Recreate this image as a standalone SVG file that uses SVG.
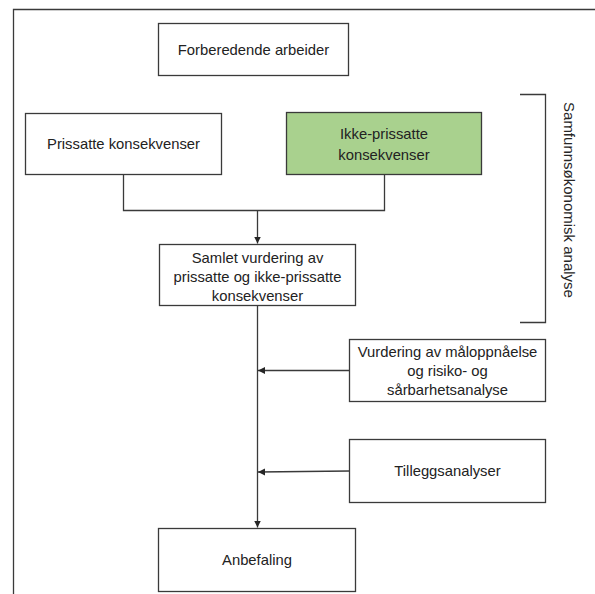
<svg xmlns="http://www.w3.org/2000/svg" width="595" height="594" viewBox="0 0 595 594">
<defs>
<marker id="arr" markerWidth="8" markerHeight="8" refX="7" refY="4" orient="auto" markerUnits="userSpaceOnUse">
<path d="M0,0.5 L7,4 L0,7.5 Z" fill="#262626"/>
</marker>
<style>
.box{fill:#ffffff;stroke:#3a3a3a;stroke-width:1.3}
.green{fill:#a9d18e;stroke:#3a3a3a;stroke-width:1.3}
.t{font-family:"Liberation Sans",Arial,sans-serif;font-size:14.8px;fill:#222222;text-anchor:middle}
.ln{fill:none;stroke:#3a3a3a;stroke-width:1.3}
</style>
</defs>
<rect width="595" height="594" fill="#ffffff"/>
<path class="ln" d="M13.5,600 V9.5 H600"/>
<g id="forberedende">
<rect class="box" x="158.5" y="23.5" width="190" height="52"/>
<text class="t" x="253.5" y="55">Forberedende arbeider</text>
</g>
<g id="prissatte">
<rect class="box" x="25.5" y="113.5" width="196" height="61"/>
<text class="t" x="123.5" y="149">Prissatte konsekvenser</text>
</g>
<g id="ikke-prissatte">
<rect class="green" x="286.5" y="112.5" width="195" height="62"/>
<text class="t" x="384" y="139">Ikke-prissatte</text>
<text class="t" x="384" y="160">konsekvenser</text>
</g>
<g id="samlet">
<rect class="box" x="159.5" y="244.5" width="196" height="61"/>
<text class="t" x="257.5" y="263">Samlet vurdering av</text>
<text class="t" x="257.5" y="282">prissatte og ikke-prissatte</text>
<text class="t" x="257.5" y="301">konsekvenser</text>
</g>
<g id="vurdering">
<rect class="box" x="349.5" y="339.5" width="196" height="62"/>
<text class="t" x="447.5" y="357">Vurdering av måloppnåelse</text>
<text class="t" x="447.5" y="376">og risiko- og</text>
<text class="t" x="447.5" y="395">sårbarhetsanalyse</text>
</g>
<g id="tilleggsanalyser">
<rect class="box" x="349.5" y="439.5" width="196" height="63"/>
<text class="t" x="447.5" y="476">Tilleggsanalyser</text>
</g>
<g id="anbefaling">
<rect class="box" x="158.5" y="528.5" width="197" height="63"/>
<text class="t" x="257" y="565">Anbefaling</text>
</g>
<g id="bracket">
<path class="ln" d="M520,94.5 H545.5 V322.5 H520"/>
<text font-family="'Liberation Sans',Arial,sans-serif" font-size="15" fill="#262626" text-anchor="middle" transform="translate(564,200) rotate(90)">Samfunnsøkonomisk analyse</text>
</g>
<g id="connectors">
<path class="ln" d="M123.5,174.5 V210.5 H384.5 V174.5"/>
<path class="ln" d="M257.5,210.5 V243.5" marker-end="url(#arr)"/>
<path class="ln" d="M257.5,305.5 V527.5" marker-end="url(#arr)"/>
<path class="ln" d="M349.5,370.5 H258" marker-end="url(#arr)"/>
<path class="ln" d="M349.5,471 L258,472" marker-end="url(#arr)"/>
</g>
</svg>
